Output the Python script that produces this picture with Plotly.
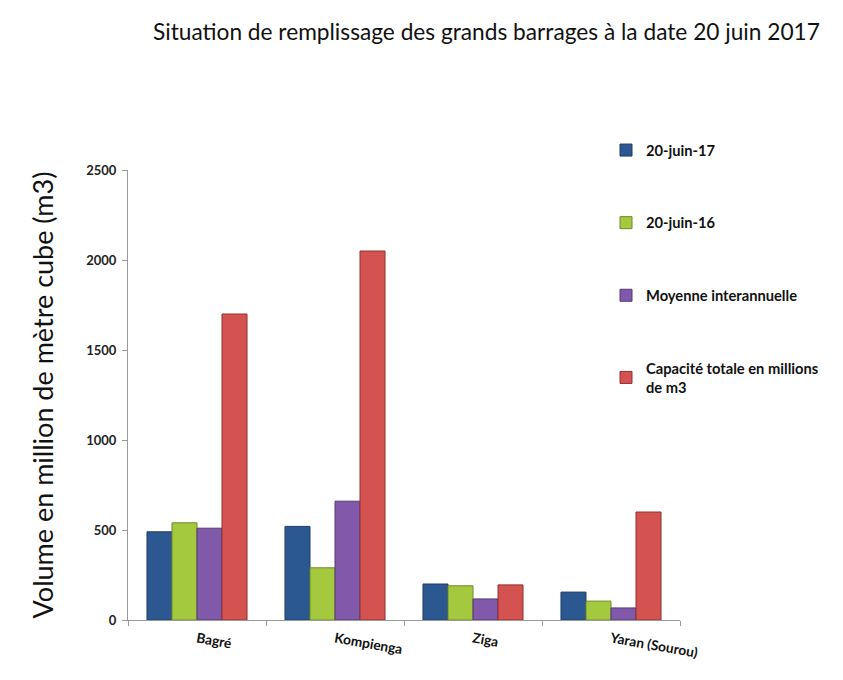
import plotly.graph_objects as go

barrages = ['Bagré', 'Kompienga', 'Ziga', 'Yaran (Sourou)']
juin_17 = [490, 520, 200, 155]
juin_16 = [540, 290, 190, 105]
moyenne = [510, 660, 117, 67]
capacite = [1700, 2050, 195, 600]

series = [
    ('20-juin-17', juin_17, '#2C5891', '#1E3D66'),
    ('20-juin-16', juin_16, '#A4C93F', '#6E8A28'),
    ('Moyenne interannuelle', moyenne, '#8059AA', '#553A75'),
    ('Capacité totale en millions<br>de m3', capacite, '#D4524F', '#8E3331'),
]

fig = go.Figure()
for i, (name, vals, col, edge) in enumerate(series):
    fig.add_trace(go.Bar(
        x=barrages, y=vals, name=name,
        legendgroup=str(i),
        marker=dict(color=col, line=dict(color=edge, width=1)),
    ))

# the page body adds 8 px, so the figure is drawn 8 px smaller / shifted
OFF = 8
W, H = 843 - OFF, 680 - OFF
ml, mr, mt, mb = 128 - OFF, 163, 170 - OFF, 60
pw, ph = W - ml - mr, H - mt - mb

fig.update_layout(
    width=W, height=H,
    margin=dict(l=ml, r=mr, t=mt, b=mb),
    paper_bgcolor='white', plot_bgcolor='white',
    font=dict(family='Lato, Open Sans, sans-serif', color='#222'),
    barmode='group', bargap=0.275, bargroupgap=0,
    title=dict(
        text='Situation de remplissage des grands barrages à la date 20 juin 2017',
        font=dict(size=22.7, color='#111'),
        x=(153 - OFF) / W, xanchor='left', y=1 - (32 - OFF) / H, yanchor='middle',
        pad=dict(l=0, r=0, t=0, b=0),
    ),
    legend=dict(
        x=(606 - ml - OFF) / pw, xanchor='left',
        y=(H - mb - (134 - OFF)) / ph, yanchor='top',
        traceorder='grouped', tracegroupgap=50.5,
        font=dict(size=14.7, color='#111', family='Lato, sans-serif', weight='bold'),
        itemwidth=30,
    ),
    showlegend=True,
)

fig.update_yaxes(
    range=[0, 2500], dtick=500,
    showgrid=False, zeroline=False,
    showline=True, linecolor='#9a9a9a', linewidth=1,
    ticks='outside', ticklen=5, tickcolor='#9a9a9a',
    ticklabelstandoff=3,
    tickfont=dict(size=13, color='#222', weight='bold'),
    title=dict(text='Volume en million de mètre cube (m3)',
               font=dict(size=27, color='#111'), standoff=24),
)
fig.update_xaxes(
    showgrid=False,
    showline=True, linecolor='#9a9a9a', linewidth=1,
    ticks='outside', ticklen=5, tickcolor='#9a9a9a',
    tickson='boundaries',
    tickangle=10,
    ticklabelstandoff=5,
    tickfont=dict(size=13.7, color='#111', weight='bold'),
)

fig.write_html('out.html')
